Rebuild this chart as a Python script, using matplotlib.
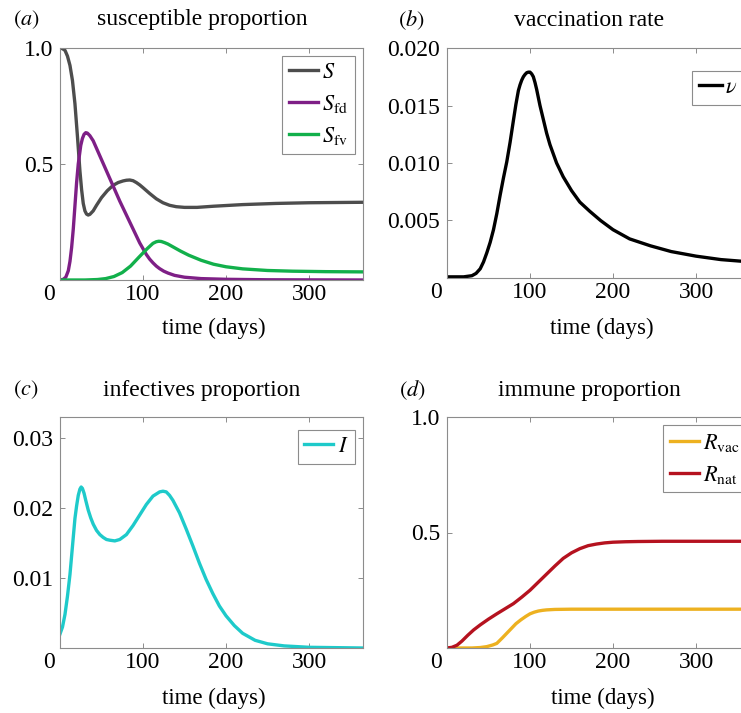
import matplotlib
matplotlib.use("Agg")
import matplotlib.pyplot as plt
from matplotlib.transforms import ScaledTranslation

plt.rcParams['font.family'] = ['Liberation Serif', 'DejaVu Serif']
plt.rcParams['mathtext.fontset'] = 'stix'

# ---------------- data ----------------
# (a) susceptible proportion
s_days = [0, 3, 6, 9, 12, 15, 18, 21, 24, 26, 28, 30, 32, 34, 36, 40, 44, 50, 57,
          64, 70, 76, 80, 84, 88, 92, 96, 100, 108, 116, 124, 132, 140, 150, 165,
          185, 220, 260, 300, 365]
s_vals = [1.0, 0.997, 0.99, 0.965, 0.925, 0.86, 0.76, 0.62, 0.47, 0.39, 0.33,
          0.298, 0.284, 0.28, 0.283, 0.298, 0.322, 0.355, 0.385, 0.408, 0.42,
          0.427, 0.43, 0.431, 0.428, 0.42, 0.41, 0.398, 0.373, 0.35, 0.333,
          0.322, 0.316, 0.313, 0.313, 0.318, 0.325, 0.33, 0.333, 0.335]

sfd_days = [0, 4, 7, 10, 12, 14, 16, 18, 20, 22, 25, 27, 29, 31, 33, 36, 40, 48,
            56, 64, 72, 80, 88, 96, 100, 104, 108, 112, 116, 120, 125, 130, 138,
            150, 170, 200, 250, 365]
sfd_vals = [0.0, 0.003, 0.012, 0.04, 0.08, 0.14, 0.22, 0.32, 0.42, 0.50, 0.58,
            0.61, 0.628, 0.635, 0.633, 0.622, 0.60, 0.535, 0.47, 0.405, 0.34,
            0.28, 0.22, 0.16, 0.135, 0.11, 0.09, 0.074, 0.06, 0.049, 0.038, 0.03,
            0.02, 0.012, 0.006, 0.003, 0.001, 0.0]

sfv_days = [0, 30, 45, 55, 65, 75, 85, 95, 105, 112, 116, 119, 122, 126, 130, 135,
            145, 155, 170, 185, 200, 220, 250, 280, 320, 365]
sfv_vals = [0.0, 0.0, 0.002, 0.006, 0.015, 0.032, 0.06, 0.098, 0.135, 0.158,
            0.165, 0.167, 0.166, 0.161, 0.155, 0.145, 0.125, 0.107, 0.085, 0.068,
            0.057, 0.048, 0.041, 0.038, 0.036, 0.035]

# (b) vaccination rate
v_days = [0, 20, 30, 35, 40, 44, 48, 52, 56, 60, 64, 68, 72, 76, 80, 83, 86, 88,
          90, 92, 94, 96, 98, 100, 102, 104, 106, 108, 110, 112, 116, 120, 124,
          128, 132, 136, 140, 145, 150, 160, 172, 185, 200, 220, 245, 270, 300,
          330, 365]
v_vals = [0.0001, 0.0001, 0.0002, 0.0004, 0.0008, 0.0014, 0.0022, 0.0031, 0.0042,
          0.0056, 0.0072, 0.0087, 0.0101, 0.0118, 0.0137, 0.0151, 0.0163,
          0.0168, 0.0172, 0.0175, 0.0177, 0.01785, 0.0179, 0.0179, 0.01775,
          0.0175, 0.017, 0.0164, 0.0157, 0.015, 0.0138, 0.0126, 0.0116, 0.0108,
          0.010, 0.0094, 0.0088, 0.0082, 0.0076, 0.0066, 0.0058, 0.005, 0.0042,
          0.0034, 0.0028, 0.0023, 0.0019, 0.0016, 0.0014]

# (c) infectives proportion
i_days = [0, 3, 6, 9, 12, 15, 18, 20, 22, 24, 25.5, 27, 29, 31, 34, 37, 40, 44,
          48, 52, 56, 60, 66, 72, 80, 88, 96, 104, 112, 116, 120, 124, 128, 132,
          136, 144, 152, 160, 168, 176, 184, 192, 200, 210, 220, 235, 250, 270,
          300, 365]
i_vals = [0.002, 0.003, 0.0048, 0.0074, 0.0105, 0.0145, 0.0185, 0.0203, 0.0218,
          0.0227, 0.023, 0.0228, 0.0221, 0.0211, 0.0197, 0.0186, 0.0177, 0.0168,
          0.0162, 0.0158, 0.0155, 0.0154, 0.0153, 0.0155, 0.0162, 0.0175, 0.019,
          0.0205, 0.0217, 0.022, 0.0223, 0.0224, 0.0223, 0.0218, 0.0211, 0.0193,
          0.017, 0.0146, 0.0121, 0.0098, 0.0078, 0.006, 0.0046, 0.0032, 0.0021,
          0.0011, 0.0006, 0.0003, 0.0001, 0.0]

# (d) immune proportion
rvac_days = [0, 30, 40, 48, 55, 60, 67, 75, 83, 89, 95, 100, 105, 110, 115, 120,
             130, 150, 200, 365]
rvac_vals = [0.0, 0.0, 0.002, 0.006, 0.013, 0.02, 0.045, 0.075, 0.105, 0.122,
             0.137, 0.148, 0.155, 0.16, 0.163, 0.165, 0.167, 0.168, 0.168, 0.168]

rnat_days = [0, 6, 12, 18, 25, 32, 40, 50, 60, 70, 80, 90, 100, 110, 120, 130, 140,
             150, 160, 170, 180, 190, 200, 215, 230, 260, 300, 365]
rnat_vals = [0.0, 0.003, 0.012, 0.03, 0.055, 0.078, 0.1, 0.125, 0.148, 0.17, 0.192,
             0.22, 0.25, 0.285, 0.32, 0.355, 0.388, 0.412, 0.43, 0.443, 0.45, 0.455,
             0.458, 0.46, 0.461, 0.462, 0.462, 0.462]

x_ticks = [0, 100, 200, 300]
x_tick_labels = ['0', '100', '200', '300']

# ---------------- styling ----------------
C_S, C_SFD, C_SFV = '#4d4d4d', '#7e1f86', '#12b04b'
C_V, C_I, C_RVAC, C_RNAT = '#000000', '#1ecaca', '#edb120', '#b5121f'
LW = 2.4
FS_TICK = 17
FS_TITLE = 17
FS_XLAB = 16.5
FS_LEG = 16
FS_PANEL = 16
SPINE = '#8c8c8c'

W, H = 741, 713
fig = plt.figure(figsize=(W / 100, H / 100), dpi=100)


def add_ax(l, t, r, b):
    return fig.add_axes([l / W, 1 - b / H, (r - l) / W, (b - t) / H])


def style(ax, ylim, yticks, yticklabels):
    ax.set_xlim(0, 365)
    ax.set_ylim(*ylim)
    ax.set_xticks(x_ticks)
    ax.set_xticklabels(x_tick_labels)
    ax.set_yticks(yticks)
    ax.set_yticklabels(yticklabels)
    ax.tick_params(direction='in', top=True, right=True, length=3.5, width=0.7,
                   color=SPINE, labelsize=FS_TICK, labelcolor='black')
    ax.tick_params(axis='x', pad=3)
    ax.tick_params(axis='y', pad=5)
    for sp in ax.spines.values():
        sp.set_color(SPINE)
        sp.set_linewidth(0.8)
    off = ScaledTranslation(-11 / 100, 0, fig.dpi_scale_trans)
    lab0 = ax.get_xticklabels()[0]
    lab0.set_transform(lab0.get_transform() + off)


def leg(ax, loc, x, y, hl=1.3, htp=0.2):
    lg = ax.legend(loc=loc, bbox_to_anchor=(x / W, 1 - y / H),
                   bbox_transform=fig.transFigure, fontsize=FS_LEG, frameon=True,
                   fancybox=False, framealpha=1, edgecolor=SPINE, borderaxespad=0,
                   handlelength=hl, handletextpad=htp, borderpad=0.3,
                   labelspacing=0.45)
    lg.get_frame().set_linewidth(0.8)
    return lg


# (a)
ax = add_ax(60, 48, 363, 280)
ax.plot(s_days, s_vals, color=C_S, lw=LW, label=r'$S$')
ax.plot(sfd_days, sfd_vals, color=C_SFD, lw=LW, label=r'$S_{\rm fd}$')
ax.plot(sfv_days, sfv_vals, color=C_SFV, lw=LW, label=r'$S_{\rm fv}$')
style(ax, (0, 1), [0.5, 1.0], ['0.5', '1.0'])
leg(ax, 'upper right', 355, 56)

# (b)
ax = add_ax(447, 48, 750, 278)
ax.plot(v_days, v_vals, color=C_V, lw=LW, label=r'$\nu$')
style(ax, (0, 0.02), [0.005, 0.010, 0.015, 0.020],
      ['0.005', '0.010', '0.015', '0.020'])
leg(ax, 'upper left', 692, 71, hl=1.05, htp=0.12)

# (c)
ax = add_ax(60, 417, 363, 648)
ax.plot(i_days, i_vals, color=C_I, lw=LW, label=r'$I$')
style(ax, (0, 0.033), [0.01, 0.02, 0.03], ['0.01', '0.02', '0.03'])
leg(ax, 'upper right', 355, 430)

# (d)
ax = add_ax(447, 417, 750, 648)
ax.plot(rvac_days, rvac_vals, color=C_RVAC, lw=LW, label=r'$R_{\rm vac}$')
ax.plot(rnat_days, rnat_vals, color=C_RNAT, lw=LW, label=r'$R_{\rm nat}$')
style(ax, (0, 1), [0.5, 1.0], ['0.5', '1.0'])
leg(ax, 'upper left', 663, 425)

# titles, panel labels, x labels
titles = [('susceptible proportion', 202, 20), ('vaccination rate', 589, 20),
          ('infectives proportion', 202, 390), ('immune proportion', 589, 390)]
for txt, x, y in titles:
    fig.text(x / W, 1 - y / H, txt, ha='center', va='center', fontsize=FS_TITLE)

panels = [('a', 26, 20), ('b', 411, 20), ('c', 26, 390), ('d', 412, 390)]
for p, x, y in panels:
    fig.text(x / W, 1 - y / H, r'$(\mathit{' + p + r'})$', ha='center',
             va='center', fontsize=FS_PANEL)

xlabs = [(214, 328), (602, 328), (214, 698), (603, 698)]
for x, y in xlabs:
    fig.text(x / W, 1 - y / H, 'time (days)', ha='center', va='center',
             fontsize=FS_XLAB)

fig.savefig('out.png', dpi=100)
